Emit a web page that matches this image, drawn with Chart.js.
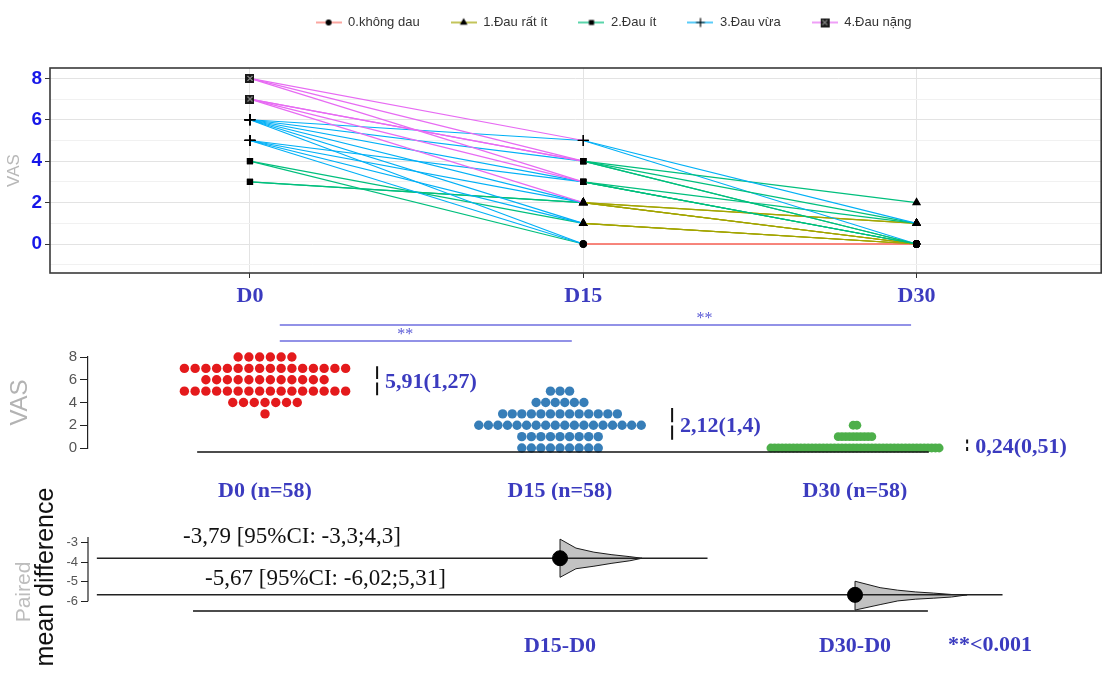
<!DOCTYPE html>
<html>
<head>
<meta charset="utf-8">
<script src="https://cdn.jsdelivr.net/npm/chart.js@4.4.1/dist/chart.umd.min.js"></script>
<style>
  html,body{margin:0;padding:0;background:#fff}
  #wrap{position:relative;width:1108px;height:674px;overflow:hidden;background:#fff}
  #wrap canvas{position:absolute;left:0}
</style>
</head>
<body>
<div id="wrap">
  <canvas id="c-top" width="1108" height="318" style="top:0"></canvas>
  <canvas id="c-mid" width="1108" height="190" style="top:310px"></canvas>
  <canvas id="c-bot" width="1108" height="204" style="top:470px"></canvas>
</div>
<script>
/* ---------- data ---------- */
const DAYS = ['D0', 'D15', 'D30'];
const LEVEL_NAMES  = ['0.không dau', '1.Đau rất ít', '2.Đau ít', '3.Đau vừa', '4.Đau nặng'];
const LEVEL_COLORS = ['#F8766D', '#A3A500', '#00BF7D', '#00B0F6', '#E76BF3'];

// one entry per drawn patient path (VAS at D0 / D15 / D30)
const PATH_D0  = [8, 8, 8, 7, 7, 7, 7, 6, 6, 6, 6, 6, 6, 5, 5, 5, 5, 4, 4, 3, 3];
const PATH_D15 = [5, 4, 3, 4, 3, 2, 4, 5, 4, 3, 2, 1, 0, 2, 1, 0, 3, 1, 0, 2, 2];
const PATH_D30 = [1, 0, 0, 2, 0, 0, 1, 0, 0, 1, 1, 0, 0, 0, 0, 0, 0, 0, 0, 1, 0];
const TOP_TICKS = [-1, 0, 1, 2, 3, 4, 5, 6, 7, 8];

// swarm: number of patients at each VAS level
const VAS_LEVELS = [0, 1, 2, 3, 4, 5, 6, 7, 8];
const COUNTS_D0  = [0, 0, 0, 1, 7, 16, 12, 16, 6];
const COUNTS_D15 = [9, 9, 18, 13, 6, 3, 0, 0, 0];
const COUNTS_D30 = [46, 10, 2, 0, 0, 0, 0, 0, 0];
const GROUP_COLORS = ['#e41a1c', '#377eb8', '#4daf4a'];
const MEANS = [5.91, 2.12, 0.24];
const SDS   = [1.27, 1.4, 0.51];
const MID_TICKS = [0, 2, 4, 6, 8];

// paired mean differences
const COMPARE   = ['D15-D0', 'D30-D0'];
const MEAN_DIFF = [-3.79, -5.67];
const CI_LOW    = [-3.3, -6.02];
const CI_HIGH   = [4.3, 5.31];
const DIFF_TICKS = [-6, -5, -4, -3];
const P_NOTE = '**<0.001';
// outline of the bootstrap distributions
const DIST_OFF = [[0, 0.054, 0.115, 0.176, 0.237, 0.278], [0, 0.085, 0.145, 0.206, 0.267, 0.327, 0.38]];
const DIST_UP  = [[0.98, 0.52, 0.31, 0.18, 0.08, 0], [0.70, 0.37, 0.24, 0.15, 0.09, 0.02, 0]];
const DIST_LO  = [[0.98, 0.54, 0.41, 0.26, 0.13, 0], [0.78, 0.50, 0.31, 0.22, 0.17, 0.11, 0]];

/* ---------- look ---------- */
const SANS   = '"Liberation Sans", Arial, sans-serif';
const NARROW = '"Liberation Sans Narrow", "Liberation Sans", Arial, sans-serif';
const SERIF  = '"Liberation Serif", "Times New Roman", serif';
const TXT_BLUE = '#3b3bbf';
Chart.defaults.font.family = SANS;
Chart.defaults.animation = false;

const lvl = v => Math.ceil(v / 2);
const vn = v => String(v).replace('.', ',');

function boxX(){
  const c = document.createElement('canvas'); c.width = 9; c.height = 9;
  const g = c.getContext('2d');
  g.fillStyle = '#1a1a1a'; g.fillRect(0, 0, 9, 9);
  g.strokeStyle = '#d8d8d8'; g.lineWidth = 1;
  g.beginPath(); g.moveTo(2, 2); g.lineTo(7, 7); g.moveTo(7, 2); g.lineTo(2, 7); g.stroke();
  return c;
}
const MARKERS = ['circle', 'triangle', 'rect', 'cross', boxX()];
const MARKER_R = [3, 4, 3.5, 5.5, 4];

function legendIcon(i){
  const c = document.createElement('canvas'); c.width = 26; c.height = 12;
  const g = c.getContext('2d');
  g.strokeStyle = LEVEL_COLORS[i]; g.lineWidth = 1.3;
  g.beginPath(); g.moveTo(0, 6); g.lineTo(26, 6); g.stroke();
  g.fillStyle = '#000'; g.strokeStyle = '#000'; g.lineWidth = 1.2;
  Chart.helpers.drawPoint(g, {pointStyle: MARKERS[i], radius: MARKER_R[i] * 0.8, rotation: 0, borderWidth: 1.2}, 13, 6);
  return c;
}
const LEGEND_ICONS = LEVEL_NAMES.map((_, i) => legendIcon(i));

/* ---------- top: individual paths ---------- */
const frame = {
  id: 'frame',
  afterDatasetsDraw(chart){
    const {ctx, chartArea: a} = chart;
    ctx.save(); ctx.strokeStyle = '#3a3a3a'; ctx.lineWidth = 1.6;
    ctx.strokeRect(a.left, a.top, a.right - a.left, a.bottom - a.top);
    ctx.restore();
  }
};
const legendBox = {
  id: 'legendBox',
  beforeInit(chart){
    const lg = chart.legend, fit = lg.fit;
    lg.fit = function(){ fit.call(this); this.height = 63; };
  },
  afterLayout(chart){ chart.legend.left += 124; chart.legend.top -= 20; }
};

new Chart(document.getElementById('c-top'), {
  type: 'line',
  data: {
    datasets: PATH_D0.map((v0, i) => ({
      data: [PATH_D0[i], PATH_D15[i], PATH_D30[i]].map((y, k) => ({x: k, y})),
      borderColor: LEVEL_COLORS[lvl(v0)],
      borderWidth: 1.2,
      segment: {borderColor: c => LEVEL_COLORS[lvl(c.p0.parsed.y)]},
      pointStyle: c => c.raw ? MARKERS[lvl(c.raw.y)] : 'circle',
      pointRadius: c => c.raw ? MARKER_R[lvl(c.raw.y)] : 3,
      pointBackgroundColor: '#000', pointBorderColor: '#000', pointBorderWidth: 1.3
    }))
  },
  options: {
    responsive: false,
    layout: {padding: {top: 5, right: 5, left: 0, bottom: 0}},
    plugins: {
      tooltip: {enabled: false},
      legend: {
        position: 'top',
        onClick: () => {},
        labels: {
          usePointStyle: true, pointStyleWidth: 26, padding: 31,
          color: '#333', font: {family: NARROW, size: 13},
          generateLabels: () => LEVEL_NAMES.map((t, i) => ({
            text: t, pointStyle: LEGEND_ICONS[i], fillStyle: '#000', strokeStyle: '#000',
            lineWidth: 0, hidden: false, fontColor: '#333'
          }))
        }
      }
    },
    scales: {
      x: {
        type: 'linear', min: -0.6, max: 2.554,
        afterBuildTicks: s => { s.ticks = DAYS.map((_, i) => ({value: i})); },
        afterFit: s => { s.height = 45; },
        ticks: {callback: v => DAYS[v], color: TXT_BLUE, font: {family: SERIF, size: 22, weight: 'bold'}, padding: 5, maxRotation: 0, autoSkip: false},
        grid: {color: '#e3e3e3', tickColor: '#333', tickLength: 5},
        border: {display: false}
      },
      y: {
        min: -1.4, max: 8.5,
        afterBuildTicks: s => { s.ticks = TOP_TICKS.map(v => ({value: v})); },
        afterFit: s => { s.width = 50; },
        ticks: {callback: v => v % 2 === 0 ? v : '', color: '#1717e8', font: {size: 19, weight: 'bold'}, padding: 3, autoSkip: false},
        grid: {
          color: c => c.tick && c.tick.value % 2 ? '#f1f1f1' : '#e3e3e3',
          tickColor: c => c.tick && c.tick.value % 2 ? 'rgba(0,0,0,0)' : '#333',
          tickLength: 5
        },
        border: {display: false},
        title: {display: true, text: 'VAS', color: '#b8b8b8', font: {size: 17}, padding: {top: 4, bottom: 0}}
      }
    }
  },
  plugins: [frame, legendBox]
});

/* ---------- middle: swarm ---------- */
const SD_OFF = 0.38;
const midDecor = {
  id: 'midDecor',
  afterDraw(chart){
    const {ctx, chartArea: a, scales: {x, y}} = chart;
    ctx.save();
    // baseline
    ctx.strokeStyle = '#111'; ctx.lineWidth = 1.5;
    ctx.beginPath(); ctx.moveTo(x.getPixelForValue(-0.23), y.getPixelForValue(-0.35));
    ctx.lineTo(x.getPixelForValue(2.25), y.getPixelForValue(-0.35)); ctx.stroke();
    // significance brackets
    ctx.strokeStyle = '#6f6fe0'; ctx.lineWidth = 1.5;
    ctx.beginPath();
    ctx.moveTo(x.getPixelForValue(0.05), a.top - 32); ctx.lineTo(x.getPixelForValue(2.19), a.top - 32);
    ctx.moveTo(x.getPixelForValue(0.05), a.top - 16); ctx.lineTo(x.getPixelForValue(1.04), a.top - 16);
    ctx.stroke();
    ctx.fillStyle = '#5a5ad6'; ctx.font = '16px ' + SERIF; ctx.textAlign = 'center'; ctx.textBaseline = 'middle';
    ctx.fillText('**', x.getPixelForValue(1.49), a.top - 38);
    ctx.fillText('**', x.getPixelForValue(0.475), a.top - 22);
    // mean (sd) labels
    ctx.fillStyle = TXT_BLUE; ctx.font = 'bold 22px ' + SERIF; ctx.textAlign = 'left';
    MEANS.forEach((m, i) => {
      ctx.fillText(`${vn(m.toFixed(2))}(${vn(SDS[i])})`, x.getPixelForValue(i + SD_OFF) + 8, y.getPixelForValue(m) + 2);
    });
    ctx.restore();
  }
};

const GROUP_COUNTS = [COUNTS_D0, COUNTS_D15, COUNTS_D30];
const midChart = new Chart(document.getElementById('c-mid'), {
  type: 'scatter',
  data: {
    datasets: [
      ...GROUP_COLORS.map((col, i) => ({
        data: [], pointRadius: i === 2 ? 4.4 : 4.7, pointBackgroundColor: col, pointBorderColor: col, pointBorderWidth: 0, clip: false
      })),
      ...MEANS.map((m, i) => ({
        data: [
          {x: i + SD_OFF, y: m - SDS[i]}, {x: i + SD_OFF, y: m - 0.15},
          {x: i + SD_OFF, y: NaN},
          {x: i + SD_OFF, y: m + 0.15}, {x: i + SD_OFF, y: m + SDS[i]}
        ],
        showLine: true, borderColor: '#111', borderWidth: 2, pointRadius: 0, clip: false
      }))
    ]
  },
  options: {
    responsive: false,
    layout: {padding: {top: 47, right: 68, left: 0, bottom: 0}},
    plugins: {legend: {display: false}, tooltip: {enabled: false}},
    scales: {
      x: {
        type: 'linear', min: -0.6, max: 2.627,
        afterBuildTicks: s => { s.ticks = DAYS.map((_, i) => ({value: i})); },
        afterFit: s => { s.height = 52; },
        ticks: {
          callback: v => `${DAYS[v]} (n=${GROUP_COUNTS[v].reduce((a, b) => a + b, 0)})`,
          color: TXT_BLUE, font: {family: SERIF, size: 22, weight: 'bold'}, padding: 22, maxRotation: 0, autoSkip: false
        },
        grid: {display: false},
        border: {display: false}
      },
      y: {
        min: 0, max: 8,
        afterBuildTicks: s => { s.ticks = MID_TICKS.map(v => ({value: v})); },
        afterFit: s => { s.width = 88; },
        ticks: {color: '#555', font: {size: 15}, padding: 3},
        grid: {drawOnChartArea: false, tickColor: '#222', tickLength: 8},
        border: {color: '#222', width: 1.2},
        title: {display: true, text: 'VAS', color: '#b3b3b3', font: {size: 24}, padding: {top: 6, bottom: 0}}
      }
    }
  },
  plugins: [midDecor]
});

// beeswarm-like rows, spread squeezed so the widest row fits the group width
const DOT_STEP = 11, MAX_SPREAD = 172;
const pxPerUnit = midChart.scales.x.getPixelForValue(1) - midChart.scales.x.getPixelForValue(0);
GROUP_COUNTS.forEach((counts, gi) => {
  const step = Math.min(DOT_STEP, MAX_SPREAD / Math.max(...counts)) / pxPerUnit;
  const pts = [];
  counts.forEach((n, li) => {
    for (let k = 0; k < n; k++) pts.push({x: gi + (k - (n - 1) / 2) * step, y: VAS_LEVELS[li]});
  });
  midChart.data.datasets[gi].data = pts;
});
midChart.update('none');

/* ---------- bottom: paired mean difference ---------- */
const botDecor = {
  id: 'botDecor',
  afterDraw(chart){
    const {ctx, chartArea: a, scales: {x, y}} = chart;
    ctx.save();
    // y axis line (only over the tick range)
    ctx.strokeStyle = '#222'; ctx.lineWidth = 1.2;
    ctx.beginPath(); ctx.moveTo(a.left, y.getPixelForValue(-2.7)); ctx.lineTo(a.left, y.getPixelForValue(-6)); ctx.stroke();
    // baseline
    ctx.strokeStyle = '#111'; ctx.lineWidth = 1.5;
    ctx.beginPath(); ctx.moveTo(x.getPixelForValue(-0.244), y.getPixelForValue(-6.5));
    ctx.lineTo(x.getPixelForValue(2.247), y.getPixelForValue(-6.5)); ctx.stroke();
    // CI labels
    ctx.fillStyle = '#111'; ctx.font = '23px ' + SERIF; ctx.textAlign = 'left'; ctx.textBaseline = 'middle';
    const lx = [-0.278, -0.203], dy = [21, 16];
    MEAN_DIFF.forEach((d, i) => {
      ctx.fillText(`${vn(d)} [95%CI: ${vn(CI_LOW[i])};${vn(CI_HIGH[i])}]`, x.getPixelForValue(lx[i]), y.getPixelForValue(d) - dy[i]);
    });
    // p note
    ctx.fillStyle = TXT_BLUE; ctx.font = 'bold 22px ' + SERIF;
    ctx.fillText(P_NOTE, x.getPixelForValue(2.315), a.bottom + 32);
    // y title
    const vtext = (t, px, py, font, col) => {
      ctx.save(); ctx.translate(px, py); ctx.rotate(-Math.PI / 2);
      ctx.font = font; ctx.fillStyle = col; ctx.textAlign = 'center'; ctx.textBaseline = 'middle';
      ctx.fillText(t, 0, 0); ctx.restore();
    };
    vtext('Paired', 24, 122, '21px ' + SANS, '#bdbdbd');
    vtext('mean difference', 46, 107, '25px ' + SANS, '#111');
    ctx.restore();
  }
};

function distShape(i){
  const g = i + 1, m = MEAN_DIFF[i];
  const upper = DIST_OFF[i].map((o, k) => ({x: g + o, y: m + DIST_UP[i][k]}));
  const lower = DIST_OFF[i].map((o, k) => ({x: g + o, y: m - DIST_LO[i][k]})).reverse();
  return [...upper, ...lower, upper[0]];
}

new Chart(document.getElementById('c-bot'), {
  type: 'scatter',
  data: {
    datasets: [
      {data: MEAN_DIFF.map((d, i) => ({x: i + 1, y: d})), pointRadius: 7.5, pointBackgroundColor: '#000', pointBorderColor: '#000'},
      ...MEAN_DIFF.map((d, i) => ({
        data: [{x: -0.57, y: d}, {x: i + 1.5, y: d}],
        showLine: true, borderColor: '#222', borderWidth: 1.5, pointRadius: 0
      })),
      ...MEAN_DIFF.map((d, i) => ({
        data: distShape(i), showLine: true, fill: 'shape',
        backgroundColor: '#c2c2c2', borderColor: '#1a1a1a', borderWidth: 1, pointRadius: 0
      }))
    ]
  },
  options: {
    responsive: false,
    layout: {padding: {top: 66, right: 68, left: 0, bottom: 0}},
    plugins: {legend: {display: false}, tooltip: {enabled: false}},
    scales: {
      x: {
        type: 'linear', min: -0.6, max: 2.627,
        afterBuildTicks: s => { s.ticks = COMPARE.map((_, i) => ({value: i + 1})); },
        afterFit: s => { s.height = 61; },
        ticks: {callback: v => COMPARE[v - 1], color: TXT_BLUE, font: {family: SERIF, size: 22, weight: 'bold'}, padding: 12, maxRotation: 0, autoSkip: false},
        grid: {display: false},
        border: {display: false}
      },
      y: {
        min: -6.6, max: -2.65,
        afterBuildTicks: s => { s.ticks = DIFF_TICKS.map(v => ({value: v})); },
        afterFit: s => { s.width = 88; },
        ticks: {color: '#555', font: {size: 13}, padding: 3},
        grid: {drawOnChartArea: false, tickColor: '#222', tickLength: 7},
        border: {display: false}
      }
    }
  },
  plugins: [botDecor]
});
</script>
</body>
</html>
